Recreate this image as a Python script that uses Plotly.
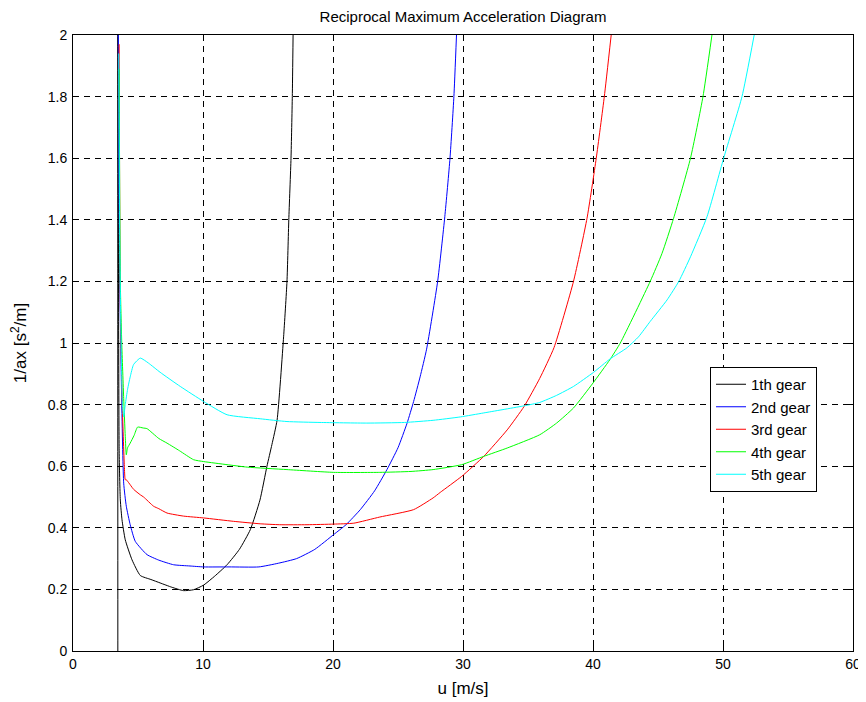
import plotly.graph_objects as go

# 1st gear
u1 = [3.45, 3.45, 3.55, 3.64, 3.77, 4.02, 4.54, 5.18, 6.0, 6.7, 7.6, 8.5, 9.28, 10.05, 10.9, 11.85,
      12.8, 13.64, 14.38, 14.92, 15.3, 15.7, 16.2, 16.46, 16.6, 16.77, 16.87, 16.93]
g1 = [-0.1, 2.1, 0.65, 0.49, 0.426, 0.361, 0.296, 0.245, 0.232, 0.221, 0.207, 0.196, 0.199, 0.214, 0.243, 0.28,
      0.33, 0.394, 0.49, 0.6, 0.67, 0.75, 1.02, 1.2, 1.4, 1.6, 1.8, 2.0]
# 2nd gear
u2 = [3.48, 3.6, 3.9, 4.1, 4.4, 4.79, 5.69, 6.6, 7.74, 9.0, 10.05, 12.0, 14.3, 15.8, 17.2, 18.6, 20.05,
      21.0, 22.1, 23.2, 24.15, 25.0, 25.7, 26.2, 26.7, 27.2, 28.05, 28.6, 29.0, 29.3, 29.5]
g2 = [2.05, 1.2, 0.545, 0.47, 0.41, 0.356, 0.313, 0.295, 0.28, 0.276, 0.273, 0.273, 0.273, 0.285, 0.30, 0.33, 0.378,
      0.41, 0.459, 0.52, 0.589, 0.66, 0.74, 0.81, 0.89, 0.98, 1.2, 1.41, 1.6, 1.8, 2.0]
# 3rd gear
u3 = [3.55, 3.62, 3.69, 3.79, 3.95, 4.02, 4.1, 4.66, 5.18, 5.43, 6.2, 6.6, 7.23, 8.5, 10.05, 12.35, 14.4,
      15.9, 18.0, 20.05, 21.6, 23.6, 26.2, 27.7, 28.25, 29.9, 31.6, 33.4, 34.7, 35.9, 37.0, 38.5, 39.54,
      40.25, 40.87, 41.4]
g3 = [1.97, 1.2, 1.0, 0.8, 0.6, 0.556, 0.556, 0.525, 0.507, 0.50, 0.47, 0.462, 0.448, 0.438, 0.432, 0.421, 0.413,
      0.41, 0.41, 0.412, 0.415, 0.435, 0.459, 0.497, 0.515, 0.567, 0.632, 0.718, 0.794, 0.885, 0.985, 1.2, 1.405,
      1.6, 1.8, 2.0]
# 4th gear
u4 = [3.55, 3.64, 3.75, 3.9, 4.02, 4.1, 4.2, 4.4, 4.7, 4.97, 5.4, 5.69, 6.6, 7.23, 8.2, 9.28, 10.05, 11.85,
      13.4, 16.46, 20.05, 23.6, 26.0, 27.7, 29.9, 31.6, 33.4, 35.9, 37.2, 38.5, 40.0, 41.3, 42.1, 44.4, 45.3,
      46.2, 47.5, 48.46, 49.15]
g4 = [1.89, 1.2, 1.0, 0.82, 0.697, 0.637, 0.66, 0.675, 0.70, 0.727, 0.724, 0.722, 0.69, 0.675, 0.65, 0.621, 0.615, 0.605,
      0.597, 0.589, 0.58, 0.58, 0.583, 0.589, 0.605, 0.632, 0.659, 0.702, 0.74, 0.789, 0.87, 0.946, 1.0, 1.2, 1.29,
      1.405, 1.6, 1.8, 2.0]
# 5th gear
u5 = [3.52, 3.6, 3.7, 3.8, 3.9, 4.02, 4.2, 4.4, 4.66, 5.18, 5.8, 6.7, 8.25, 10.05, 11.85, 14.4, 16.46, 19.0,
      22.6, 25.5, 27.7, 29.8, 31.6, 34.7, 35.9, 37.2, 38.5, 40.05, 41.3, 42.6, 43.5, 44.4, 45.7, 46.6, 47.5,
      48.77, 50.05, 51.46, 52.4]
g5 = [1.94, 1.3, 1.0, 0.8, 0.76, 0.80, 0.85, 0.89, 0.93, 0.951, 0.935, 0.905, 0.859, 0.81, 0.767, 0.754, 0.745, 0.742,
      0.74, 0.742, 0.749, 0.76, 0.773, 0.796, 0.807, 0.83, 0.859, 0.905, 0.948, 0.984, 1.02, 1.07, 1.14, 1.2, 1.28,
      1.41, 1.6, 1.8, 2.0]

names = ["1th gear", "2nd gear", "3rd gear", "4th gear", "5th gear"]
colors = ["#000000", "#0000ff", "#ff0000", "#00ff00", "#00ffff"]
xs = [u1, u2, u3, u4, u5]
ys = [g1, g2, g3, g4, g5]

xticks = [0, 10, 20, 30, 40, 50, 60]
yticks = [0, 0.2, 0.4, 0.6, 0.8, 1, 1.2, 1.4, 1.6, 1.8, 2]

FONT = "Liberation Sans, Arial, sans-serif"

# page body has an 8px margin: size the figure so the plot lands where the reference has it
W, H = 858, 694
L, T, R, B = 65, 27, 13, 51
PW, PH = W - L - R, H - T - B

fig = go.Figure()
for x, y, n, c in zip(xs, ys, names, colors):
    fig.add_trace(go.Scatter(x=x, y=y, mode="lines", name=n,
                             line=dict(color=c, width=1, shape="spline", smoothing=0.5)))

axis_common = dict(
    showline=True, linecolor="black", linewidth=1, mirror="allticks",
    ticks="inside", ticklen=5, tickcolor="black",
    showgrid=True, gridcolor="black", gridwidth=1, griddash="6px,5px",
    zeroline=False, automargin=False,
    tickfont=dict(family=FONT, size=14, color="black"),
)

fig.update_layout(
    width=W, height=H,
    paper_bgcolor="white", plot_bgcolor="white",
    margin=dict(l=L, r=R, t=T, b=B),
    font=dict(family=FONT, size=14, color="black"),
    title=dict(text="Reciprocal Maximum Acceleration Diagram", x=0.5, xanchor="center",
               xref="paper", y=1 - 3 / H, yanchor="top", yref="container",
               font=dict(family=FONT, size=15, color="black")),
    xaxis=dict(range=[0, 60], tickvals=xticks, ticktext=[str(v) for v in xticks],
               title=dict(text="u [m/s]", standoff=11, font=dict(size=17)), **axis_common),
    yaxis=dict(range=[0, 2], tickvals=yticks, ticktext=[f"{v:g}" for v in yticks],
               ticklabelstandoff=2,
               title=dict(text="1/ax [s<sup>2</sup>/m]", standoff=21, font=dict(size=17)), **axis_common),
    legend=dict(x=(710 - 8 - L) / PW, y=(651 - 367) / PH, xanchor="left", yanchor="top",
                bgcolor="white", bordercolor="black", borderwidth=1,
                font=dict(family=FONT, size=15, color="black"),
                tracegroupgap=0, itemwidth=30),
    showlegend=True,
)

fig.write_html("out.html")
